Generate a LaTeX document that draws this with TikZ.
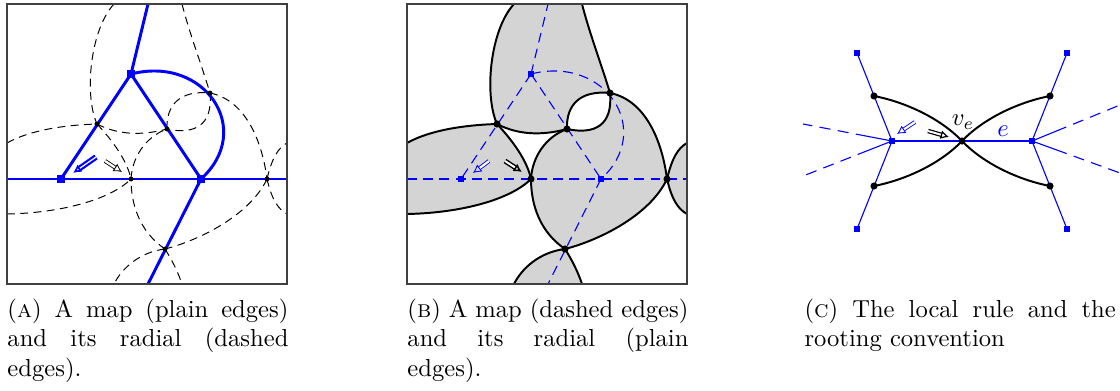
\documentclass[tikz,border=0pt]{standalone}
\usetikzlibrary{arrows.meta}
\tikzset{
 boxframe/.style={draw=black!75, line width=0.5pt},
 mapedge/.style={blue, line width=1.2pt},
 mapdash/.style={blue, line width=0.45pt, dash pattern=on 4pt off 2.6pt},
 raddash/.style={black, line width=0.4pt, dash pattern=on 3.2pt off 2.2pt},
 radedge/.style={black, line width=0.8pt},
 lobe/.style={fill=black!17},
 sqA/.style={rectangle, fill=blue, inner sep=0pt, minimum size=3.2pt},
 sqB/.style={rectangle, fill=blue, inner sep=0pt, minimum size=2.6pt},
 sqC/.style={rectangle, fill=blue, inner sep=0pt, minimum size=2.2pt},
 dotA/.style={circle, fill=black, inner sep=0pt, minimum size=2pt},
 dotB/.style={circle, fill=black, inner sep=0pt, minimum size=2.9pt},
 dotC/.style={circle, fill=black, inner sep=0pt, minimum size=2.9pt},
 rootarrow/.style={double, double distance=#1, -{Latex[open, length=3.4pt, width=3.6pt]}},
 thinblue/.style={blue, line width=0.45pt},
 cdash/.style={blue, line width=0.45pt, dash pattern=on 15pt off 3pt on 4.5pt off 3pt on 4.5pt off 3pt on 4.5pt off 3pt},
 captext/.style={anchor=base west, inner sep=0pt, align=justify, font=\normalsize},
}
\newcommand\panelpts[1]{%
 \coordinate (#1V1) at (61,179); \coordinate (#1V2) at (131,74); \coordinate (#1V3) at (201,179);
 \coordinate (#1d1) at (97,124); \coordinate (#1d2) at (167,129); \coordinate (#1d3) at (210,93);
 \coordinate (#1d4) at (131,179); \coordinate (#1d5) at (267,179); \coordinate (#1d6) at (165,249);
 \coordinate (#1t1) at (114,4); \coordinate (#1t2) at (182,4);
 \coordinate (#1b1) at (114,284); \coordinate (#1b2) at (182,284);
 \coordinate (#1l1) at (7,143); \coordinate (#1l2) at (7,214);
 \coordinate (#1r1) at (287,143); \coordinate (#1r2) at (287,214);
 \coordinate (#1N) at (148,4); \coordinate (#1S) at (148,284);
 \coordinate (#1W) at (7,179); \coordinate (#1E) at (287,179);
 \coordinate (#1BL) at (7,4); \coordinate (#1BR) at (287,284);
}
\newcommand\radialpaths[2]{%
 \draw[#2] (#1t1) .. controls (90,30) and (84,95) .. (#1d1);
 \draw[#2] (#1t2) .. controls (190,35) and (200,60) .. (#1d3);
 \draw[#2] (#1d1) .. controls (120,136) and (145,135) .. (#1d2);
 \draw[#2] (#1d2) .. controls (166,105) and (180,90) .. (#1d3);
 \draw[#2] (#1d3) .. controls (213,125) and (195,135) .. (#1d2);
 \draw[#2] (#1l1) .. controls (30,130) and (65,125) .. (#1d1);
 \draw[#2] (#1l2) .. controls (60,213) and (110,200) .. (#1d4);
 \draw[#2] (#1d1) .. controls (112,140) and (127,160) .. (#1d4);
 \draw[#2] (#1d4) .. controls (132,158) and (145,137) .. (#1d2);
 \draw[#2] (#1d3) .. controls (245,100) and (262,140) .. (#1d5);
 \draw[#2] (#1d5) .. controls (250,215) and (200,240) .. (#1d6);
 \draw[#2] (#1d6) .. controls (140,232) and (131,205) .. (#1d4);
 \draw[#2] (#1d5) .. controls (272,158) and (278,148) .. (#1r1);
 \draw[#2] (#1d5) .. controls (272,200) and (278,209) .. (#1r2);
 \draw[#2] (#1d6) .. controls (140,252) and (122,268) .. (#1b1);
 \draw[#2] (#1d6) .. controls (172,260) and (178,272) .. (#1b2);
}
\newcommand\mapedges[2]{%
 \draw[#2] (#1W) -- (#1E);
 \draw[#2] (#1V2) -- (#1N);
 \draw[#2] (#1V2) -- (#1V1);
 \draw[#2] (#1V2) -- (#1V3);
 \draw[#2] (#1V3) -- (#1S);
 \draw[#2] (#1V2) .. controls (205,55) and (255,130) .. (#1V3);
}
\begin{document}
\begin{tikzpicture}[x=0.4065pt, y=-0.4065pt]
\useasboundingbox (0,0) rectangle (1120,390);

% ---------------- Panel A ----------------
\begin{scope}
 \panelpts{A}
 \begin{scope}
  \clip (ABL) rectangle (ABR);
  \radialpaths{A}{raddash}
  \mapedges{A}{mapedge}
 \end{scope}
 \foreach \i in {1,...,6} { \node[dotA] (Adot\i) at (Ad\i) {}; }
 \foreach \i in {1,2,3} { \node[sqA] (Asq\i) at (AV\i) {}; }
 \coordinate (Ara) at (96,157); \coordinate (Arb) at (73,173);
 \coordinate (Aqa) at (105,161); \coordinate (Aqb) at (122,172);
 \draw[blue, line width=0.9pt, rootarrow=0.5pt] (Ara) -- (Arb);
 \draw[black, line width=0.35pt, rootarrow=0.9pt] (Aqa) -- (Aqb);
 \draw[boxframe] (ABL) rectangle (ABR);
\end{scope}

% ---------------- Panel B ----------------
\begin{scope}[shift={(400,0)}]
 \panelpts{B}
 \begin{scope}
  \clip (BBL) rectangle (BBR);
  \path[lobe] (Bt1) .. controls (90,30) and (84,95) .. (Bd1)
     .. controls (120,136) and (145,135) .. (Bd2)
     .. controls (166,105) and (180,90) .. (Bd3)
     .. controls (200,60) and (190,35) .. (Bt2) -- cycle;
  \path[lobe] (Bl1) .. controls (30,130) and (65,125) .. (Bd1)
     .. controls (112,140) and (127,160) .. (Bd4)
     .. controls (110,200) and (60,213) .. (Bl2) -- cycle;
  \path[lobe] (Bd4) .. controls (132,158) and (145,137) .. (Bd2)
     .. controls (195,135) and (213,125) .. (Bd3)
     .. controls (245,100) and (262,140) .. (Bd5)
     .. controls (250,215) and (200,240) .. (Bd6)
     .. controls (140,232) and (131,205) .. (Bd4) -- cycle;
  \path[lobe] (Bd5) .. controls (272,158) and (278,148) .. (Br1) -- (Br2)
     .. controls (278,209) and (272,200) .. (Bd5) -- cycle;
  \path[lobe] (Bd6) .. controls (140,252) and (122,268) .. (Bb1) -- (Bb2)
     .. controls (178,272) and (172,260) .. (Bd6) -- cycle;
  \mapedges{B}{mapdash}
  \radialpaths{B}{radedge}
 \end{scope}
 \foreach \i in {1,...,6} { \node[dotB] (Bdot\i) at (Bd\i) {}; }
 \foreach \i in {1,2,3} { \node[sqB] (Bsq\i) at (BV\i) {}; }
 \coordinate (Bra) at (89,161); \coordinate (Brb) at (73,173);
 \coordinate (Bqa) at (105,161); \coordinate (Bqb) at (122,172);
 \draw[blue, line width=0.35pt, rootarrow=0.9pt] (Bra) -- (Brb);
 \draw[black, line width=0.6pt, rootarrow=0.8pt] (Bqa) -- (Bqb);
 \draw[boxframe] (BBL) rectangle (BBR);
\end{scope}

% ---------------- Panel C ----------------
\coordinate (ve) at (962,141);
\coordinate (CL) at (892,141); \coordinate (CR) at (1032,141);
\coordinate (CLT) at (857,53); \coordinate (CLB) at (857,229);
\coordinate (CRT) at (1067,53); \coordinate (CRB) at (1067,229);
\coordinate (Clt) at (874,96); \coordinate (Clb) at (874,186);
\coordinate (Crt) at (1050,96); \coordinate (Crb) at (1050,186);
\coordinate (CLu) at (803,124); \coordinate (CLd) at (803,176);
\coordinate (CRu) at (1120,105); \coordinate (CRd) at (1120,173);

\draw[thinblue] (CLT) -- (CL) -- (CLB);
\draw[thinblue] (CRT) -- (CR) -- (CRB);
\draw[thinblue] (CL) -- (CR);
\draw[cdash] (CL) -- (CLu);
\draw[cdash] (CL) -- (CLd);
\draw[cdash] (CR) -- (CRu);
\draw[cdash] (CR) -- (CRd);
\draw[radedge] (Clt) .. controls (905,102) and (940,118) .. (ve);
\draw[radedge] (Clb) .. controls (905,180) and (940,164) .. (ve);
\draw[radedge] (ve) .. controls (984,118) and (1019,102) .. (Crt);
\draw[radedge] (ve) .. controls (984,164) and (1019,180) .. (Crb);
\foreach \n in {CL,CR,CLT,CLB,CRT,CRB} { \node[sqC] (sq\n) at (\n) {}; }
\foreach \n in {Clt,Clb,Crt,Crb,ve} { \node[dotC] (dot\n) at (\n) {}; }
\coordinate (Cra) at (915,122); \coordinate (Crb2) at (897,134);
\coordinate (Cqa) at (928,131); \coordinate (Cqb) at (949,137);
\draw[blue, line width=0.35pt, rootarrow=0.9pt] (Cra) -- (Crb2);
\draw[black, line width=0.5pt, rootarrow=0.8pt] (Cqa) -- (Cqb);
\node[inner sep=0pt] (lve) at (963,122) {$v_e$};
\node[inner sep=0pt, text=blue] (le) at (1003,131) {$e$};

% ---------------- Captions ----------------
\node[captext, text width=114.2pt] (capA) at (7,317)
 {\hyphenpenalty=10000 (\textsc{a}) A map (plain edges) and its radial (dashed edges).};
\node[captext, text width=114.2pt] (capB) at (407,317)
 {\hyphenpenalty=10000 (\textsc{b}) A map (dashed edges) and its radial (plain edges).};
\node[captext, text width=126.5pt] (capC) at (804,317)
 {\hyphenpenalty=10000 (\textsc{c}) The local rule and the rooting convention};
\end{tikzpicture}
\end{document}
